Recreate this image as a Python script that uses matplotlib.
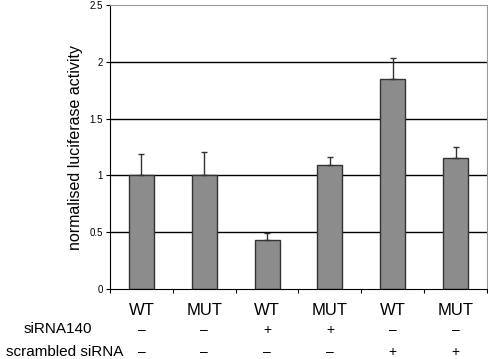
import matplotlib
matplotlib.use("Agg")
import matplotlib.pyplot as plt
import numpy as np

plt.rcParams["font.family"] = ["Liberation Sans", "DejaVu Sans"]

constructs = ["WT", "MUT", "WT", "MUT", "WT", "MUT"]
sirna140 = ["–", "–", "+", "+", "–", "–"]
scrambled = ["–", "–", "–", "–", "+", "+"]
activity = [1.0, 1.0, 0.43, 1.095, 1.85, 1.15]
err_upper = [0.19, 0.21, 0.06, 0.07, 0.18, 0.10]

fig = plt.figure(figsize=(4.88, 3.59), dpi=100)
ax = fig.add_axes([0.2254, 0.195, 0.7725, 0.791])

x = np.arange(len(activity))
yerr = [np.zeros(len(err_upper)), err_upper]

for y in [0.5, 1.0, 1.5, 2.0]:
    ax.axhline(y, color="black", lw=1.0, zorder=0)

ax.bar(x, activity, width=0.4, color="#8c8c8c", edgecolor="#333333", lw=1.0, zorder=2)
ax.errorbar(x, activity, yerr=yerr, fmt="none", ecolor="#333333", elinewidth=1.0,
            capsize=2.0, capthick=1.0, zorder=3)

ax.set_xlim(-0.5, len(activity) - 0.5)
ax.set_ylim(0, 2.5)
ax.set_yticks([0, 0.5, 1, 1.5, 2, 2.5])
ax.set_yticklabels(["0", "0.5", "1", "1.5", "2", "2.5"], fontsize=7)
ax.tick_params(axis="y", direction="out", length=3, width=0.8, pad=2)

# category ticks between bars, labels drawn separately
ax.set_xticks(np.arange(len(activity) + 1) - 0.5)
ax.set_xticklabels([])
ax.tick_params(axis="x", direction="out", length=3, width=0.8)

for side in ["top", "right"]:
    ax.spines[side].set_color("#999999")
ax.spines["left"].set_color("black")
ax.spines["bottom"].set_color("black")

ax.set_ylabel("normalised luciferase activity", fontsize=11.5, labelpad=5)

trans = ax.get_xaxis_transform()
for i in range(len(activity)):
    ax.text(i, -0.075, constructs[i], transform=trans, ha="center", va="center", fontsize=12)
    ax.text(i, -0.143, sirna140[i], transform=trans, ha="center", va="center", fontsize=10)
    ax.text(i, -0.222, scrambled[i], transform=trans, ha="center", va="center", fontsize=10)

fig.text(92 / 488, 1 - 329 / 359, "siRNA140", ha="right", va="center", fontsize=11)
fig.text(123 / 488, 1 - 352 / 359, "scrambled siRNA", ha="right", va="center", fontsize=11)

fig.savefig("out.png", dpi=100)
